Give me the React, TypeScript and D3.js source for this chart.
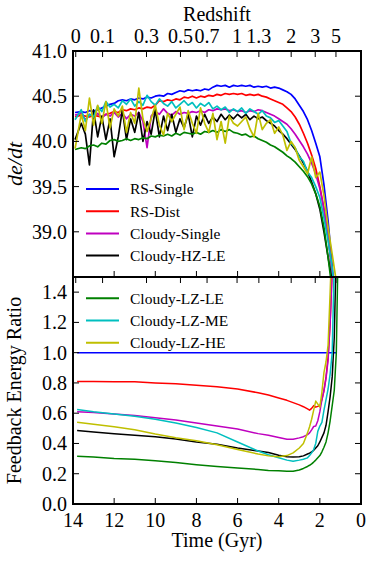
import React from "react";
import * as d3 from "d3";

// cosmic time grid (Gyr) of the de/dt panel
const timeTop = [
  13.9, 13.6, 13.4, 13.2, 13.0, 12.8, 12.6, 12.4, 12.2, 12.0,
  11.8, 11.6, 11.4, 11.2, 11.0, 10.8, 10.6, 10.4, 10.2, 10.0,
  9.8, 9.6, 9.4, 9.2, 9.0, 8.8, 8.6, 8.4, 8.2, 8.0,
  7.8, 7.6, 7.4, 7.2, 7.0, 6.8, 6.6, 6.4, 6.2, 6.0,
  5.8, 5.6, 5.4, 5.2, 5.0, 4.8, 4.6, 4.4, 4.2, 4.0,
  3.8, 3.6, 3.4, 3.2, 3.0, 2.8, 2.6, 2.4, 2.2, 2.0,
  1.8, 1.6, 1.4, 1.2,
];

const rsSingle = [
  40.32, 40.33, 40.32, 40.34, 40.33, 40.35, 40.37, 40.39, 40.41, 40.42,
  40.45, 40.46, 40.45, 40.47, 40.46, 40.48, 40.47, 40.49, 40.48, 40.50,
  40.51, 40.50, 40.53, 40.52, 40.54, 40.56, 40.55, 40.57, 40.56, 40.57,
  40.56, 40.58, 40.57, 40.60, 40.62, 40.61, 40.62, 40.60, 40.62, 40.61,
  40.62, 40.61, 40.62, 40.60, 40.61, 40.60, 40.61, 40.59, 40.60, 40.59,
  40.57, 40.55, 40.52, 40.47, 40.40, 40.33, 40.24, 40.12, 39.98, 39.83,
  39.52, 39.12, 38.62, 38.0,
];
const rsDist = [
  40.27, 40.29, 40.28, 40.27, 40.29, 40.28, 40.27, 40.30, 40.31, 40.33,
  40.32, 40.35, 40.34, 40.36, 40.35, 40.37, 40.36, 40.38, 40.37, 40.40,
  40.45, 40.44, 40.46, 40.45, 40.47, 40.46, 40.49, 40.48, 40.50, 40.48,
  40.50, 40.49, 40.51, 40.50, 40.52, 40.51, 40.53, 40.52, 40.53, 40.52,
  40.53, 40.51, 40.52, 40.51, 40.52, 40.50, 40.49, 40.47, 40.45, 40.43,
  40.41, 40.37, 40.33, 40.27, 40.19, 40.09, 39.98, 39.85, 39.70, 39.50,
  39.25, 38.95, 38.55, 38.0,
];
const cloudySingle = [
  40.29, 40.31, 40.24, 40.30, 40.27, 40.31, 40.26, 40.30, 40.28, 40.32,
  40.27, 40.31, 40.25, 40.30, 40.28, 40.32, 40.22, 39.93, 40.28, 40.33,
  40.30, 40.36, 40.31, 40.29, 40.33, 40.30, 40.32, 40.31, 40.33, 40.32,
  40.34, 40.32, 40.35, 40.34, 40.36, 40.35, 40.36, 40.34, 40.35, 40.33,
  40.34, 40.32, 40.34, 40.33, 40.35, 40.34, 40.32, 40.30, 40.28, 40.25,
  40.22, 40.19, 40.14, 40.08, 40.01, 39.94, 39.86, 39.76, 39.64, 39.48,
  39.25, 38.95, 38.55, 38.0,
];
const cloudyHzLe = [
  40.02, 40.20, 40.08, 39.74, 40.35, 40.05, 40.28, 40.02, 40.25, 39.83,
  40.05, 40.35, 40.02, 40.25, 40.10, 40.32, 40.00, 40.22, 40.08, 40.35,
  40.05, 40.28, 40.12, 40.30, 40.10, 40.25, 40.15, 40.30, 40.05, 40.28,
  40.18, 40.30, 40.20, 40.27, 40.22, 40.30, 40.24, 40.29, 40.25, 40.30,
  40.26, 40.30, 40.24, 40.28, 40.25, 40.27, 40.23, 40.20, 40.17, 40.12,
  40.08, 40.03, 39.97, 39.91, 39.84, 39.76, 39.67, 39.55, 39.42, 39.25,
  39.00, 38.72, 38.45, 38.0,
];
const cloudyLzLe = [
  39.91, 39.93, 39.92, 39.95, 39.96, 39.94, 39.98, 39.97, 40.01, 40.02,
  40.00, 40.01, 40.03, 40.01, 40.03, 40.02, 40.04, 40.03, 40.06, 40.05,
  40.07, 40.06, 40.08, 40.06, 40.09, 40.07, 40.10, 40.09, 40.08, 40.10,
  40.08, 40.11, 40.10, 40.12, 40.10, 40.13, 40.11, 40.13, 40.10, 40.09,
  40.07, 40.08, 40.05, 40.06, 40.03, 40.01, 39.99, 39.96, 39.94, 39.91,
  39.88, 39.84, 39.81, 39.77, 39.72, 39.67, 39.61, 39.53, 39.42, 39.28,
  39.05, 38.72, 38.35, 37.9,
];
const cloudyLzMe = [
  40.24, 40.35, 40.22, 40.30, 40.27, 40.39, 40.33, 40.44, 40.38, 40.41,
  40.37, 40.45, 40.41, 40.47, 40.39, 40.44, 40.40, 40.51, 40.44, 40.40,
  40.47, 40.42, 40.39, 40.44, 40.37, 40.41, 40.45, 40.40, 40.43, 40.37,
  40.42, 40.39, 40.43, 40.36, 40.39, 40.35, 40.38, 40.32, 40.36, 40.33,
  40.37, 40.31, 40.36, 40.33, 40.30, 40.34, 40.28, 40.26, 40.21, 40.23,
  40.17, 40.11, 39.98, 39.93, 39.83, 39.78, 39.66, 39.60, 39.50, 39.38,
  39.15, 38.90, 38.60, 38.1,
];
const cloudyLzHe = [
  39.92, 40.30, 40.12, 40.48, 40.18, 40.40, 40.20, 40.44, 40.15, 40.36,
  40.28, 40.39, 40.10, 40.32, 40.20, 40.59, 40.25, 40.11, 40.25, 40.40,
  40.18, 40.07, 40.31, 40.22, 40.30, 40.38, 40.13, 40.34, 40.20, 40.09,
  40.37, 40.20, 40.10, 40.31, 40.02, 40.22, 39.98, 40.28, 40.20, 40.17,
  40.22, 40.27, 40.14, 40.05, 40.31, 40.13, 40.20, 40.24, 40.09, 40.16,
  40.07, 39.90, 40.00, 39.93, 39.79, 39.72, 39.64, 39.83, 39.60, 39.66,
  39.40, 39.05, 38.75, 38.45,
];

// cosmic time grid (Gyr) of the ratio panel
const timeRatio = [
  13.8, 13.0, 12.0, 11.0, 10.0, 9.0, 8.0, 7.0, 6.0, 5.0,
  4.5, 4.0, 3.6, 3.3, 3.0, 2.8, 2.6, 2.5, 2.4, 2.3,
  2.2, 2.1, 2.0, 1.9, 1.8, 1.7, 1.6, 1.5, 1.4, 1.3,
  1.2, 1.1,
];
const ratioRsSingleTime = [13.8, 1.2];
const ratioRsSingle = [1.0, 1.0];
const ratioRsDist = [
  0.81, 0.81, 0.807, 0.808, 0.80, 0.795, 0.785, 0.775, 0.76, 0.735,
  0.72, 0.70, 0.685, 0.67, 0.655, 0.643, 0.628, 0.62, 0.632, 0.65,
  0.64, 0.645, 0.648, 0.69, 0.75, 0.84, 0.97, 1.2, 1.55, 1.9,
  2.3, 2.6,
];
const ratioCloudySingle = [
  0.61, 0.605, 0.595, 0.585, 0.57, 0.555, 0.535, 0.515, 0.495, 0.465,
  0.455, 0.44, 0.428, 0.428, 0.437, 0.445, 0.458, 0.47, 0.49, 0.512,
  0.515, 0.55, 0.61, 0.69, 0.75, 0.83, 0.95, 1.2, 1.55, 1.9,
  2.3, 2.6,
];
const ratioCloudyHzLe = [
  0.485, 0.475, 0.465, 0.455, 0.445, 0.43, 0.41, 0.395, 0.37, 0.35,
  0.34, 0.322, 0.312, 0.31, 0.312, 0.318, 0.33, 0.336, 0.345, 0.355,
  0.37, 0.385, 0.41, 0.44, 0.47, 0.52, 0.61, 0.71, 0.84, 1.1,
  1.7, 2.3,
];
const ratioCloudyLzLe = [
  0.315, 0.31, 0.30, 0.295, 0.285, 0.275, 0.26, 0.248, 0.238, 0.228,
  0.222, 0.22, 0.216, 0.217, 0.225, 0.235, 0.248, 0.256, 0.265, 0.277,
  0.29, 0.305, 0.32, 0.345, 0.375, 0.41, 0.47, 0.55, 0.65, 0.75,
  1.0, 1.8,
];
const ratioCloudyLzMe = [
  0.625, 0.61, 0.595, 0.58, 0.56, 0.535, 0.505, 0.47, 0.41, 0.35,
  0.325, 0.305, 0.29, 0.282, 0.29, 0.296, 0.305, 0.32, 0.338, 0.36,
  0.40, 0.48, 0.515, 0.54, 0.62, 0.69, 0.76, 0.86, 1.0, 1.6,
  2.2, 2.6,
];
const ratioCloudyLzHe = [
  0.54, 0.527, 0.51, 0.49, 0.462, 0.438, 0.418, 0.392, 0.36, 0.33,
  0.318, 0.312, 0.32, 0.338, 0.37, 0.40, 0.47, 0.51, 0.56, 0.62,
  0.68, 0.66, 0.64, 0.74, 0.87, 0.94, 1.05, 1.4, 1.8, 2.2,
  2.5, 2.8,
];

const seriesNames = [
  "RS-Single", "RS-Dist", "Cloudy-Single", "Cloudy-HZ-LE",
  "Cloudy-LZ-LE", "Cloudy-LZ-ME", "Cloudy-LZ-HE",
];
const seriesColors = ["#0000ff", "#ff0000", "#bf00bf", "#000000", "#008000", "#00bfbf", "#bfbf00"];

const timeTicks = [14, 12, 10, 8, 6, 4, 2, 0];
const redshiftTicks = [0, 0.1, 0.3, 0.5, 0.7, 1, 1.3, 2, 3, 5];
const topYTicks = [39.0, 39.5, 40.0, 40.5, 41.0];
const bottomYTicks = [0.0, 0.2, 0.4, 0.6, 0.8, 1.0, 1.2, 1.4];

// flat LCDM used for the redshift axis
const H0 = 70;
const OMEGA_M = 0.27;
function ageAtRedshift(z: number) {
  const ol = 1 - OMEGA_M;
  const tH = 977.8 / H0;
  return (2 / (3 * Math.sqrt(ol))) * tH * Math.asinh(Math.sqrt(ol / OMEGA_M) * Math.pow(1 + z, -1.5));
}

const serif = { fontFamily: "Liberation Serif" };

export default function App() {
  const width = 374;
  const height = 561;
  const left = 73, right = 361, top = 51, mid = 277, bottom = 504;

  const x = d3.scaleLinear().domain([14, 0]).range([left, right]);
  const yTop = d3.scaleLinear().domain([38.5, 41.0]).range([mid, top]);
  const yBot = d3.scaleLinear().domain([0, 1.5]).range([bottom, mid]);

  const topSeries = [rsSingle, rsDist, cloudySingle, cloudyHzLe, cloudyLzLe, cloudyLzMe, cloudyLzHe];
  const botSeries = [
    { t: ratioRsSingleTime, v: ratioRsSingle },
    { t: timeRatio, v: ratioRsDist },
    { t: timeRatio, v: ratioCloudySingle },
    { t: timeRatio, v: ratioCloudyHzLe },
    { t: timeRatio, v: ratioCloudyLzLe },
    { t: timeRatio, v: ratioCloudyLzMe },
    { t: timeRatio, v: ratioCloudyLzHe },
  ];

  const topLine = d3.line<number>().x((_, i) => x(timeTop[i])).y(v => yTop(v));
  const botLine = (t: number[]) => d3.line<number>().x((_, i) => x(t[i])).y(v => yBot(v));

  const tickLen = 6;
  const panels = [
    { y0: top, y1: mid, scale: yTop, ticks: topYTicks, fmt: d3.format(".1f") },
    { y0: mid, y1: bottom, scale: yBot, ticks: bottomYTicks, fmt: d3.format(".1f") },
  ];

  const legendTop = [0, 1, 2, 3];
  const legendBot = [4, 5, 6];

  return (
    <svg width={width} height={height}
      style={{ position: "absolute", left: 0, top: 0, background: "#fff" }}>
      <defs>
        <clipPath id="clipTop"><rect x={left} y={top} width={right - left} height={mid - top} /></clipPath>
        <clipPath id="clipBot"><rect x={left} y={mid} width={right - left} height={bottom - mid} /></clipPath>
      </defs>

      <g clipPath="url(#clipTop)" fill="none" strokeWidth={1.7} strokeLinejoin="round">
        {topSeries.map((vals, k) => (
          <path key={k} d={topLine(vals) || ""} stroke={seriesColors[k]} />
        ))}
      </g>
      <g clipPath="url(#clipBot)" fill="none" strokeWidth={1.5} strokeLinejoin="round">
        {botSeries.map((s, k) => (
          <path key={k} d={botLine(s.t)(s.v) || ""} stroke={seriesColors[k]} />
        ))}
      </g>

      {/* ticks */}
      {panels.map((p, k) => (
        <g key={k} stroke="#000" strokeWidth={1}>
          {p.ticks.map(v => (
            <g key={v}>
              <line x1={left} x2={left + tickLen} y1={p.scale(v)} y2={p.scale(v)} />
              <line x1={right} x2={right - tickLen} y1={p.scale(v)} y2={p.scale(v)} />
            </g>
          ))}
          {timeTicks.map(t => (
            <line key={"t" + t} x1={x(t)} x2={x(t)} y1={p.y1} y2={p.y1 - tickLen} />
          ))}
          {redshiftTicks.map(z => (
            <line key={"z" + z} x1={x(ageAtRedshift(z))} x2={x(ageAtRedshift(z))} y1={p.y0} y2={p.y0 + tickLen} />
          ))}
        </g>
      ))}

      {/* spines */}
      <rect x={left} y={top} width={right - left} height={mid - top} fill="none" stroke="#000" strokeWidth={2} />
      <rect x={left} y={mid} width={right - left} height={bottom - mid} fill="none" stroke="#000" strokeWidth={2} />

      {/* y tick labels */}
      <g fontSize={20} textAnchor="end" fill="#000">
        {panels.map((p, k) => p.ticks.map(v => (
          <text key={k + "-" + v} x={left - 6} y={p.scale(v)} dy="0.35em" style={serif}>{p.fmt(v)}</text>
        )))}
      </g>

      {/* x tick labels */}
      <g fontSize={20} textAnchor="middle" fill="#000">
        {timeTicks.map(t => (
          <text key={t} x={x(t)} y={527} style={serif}>{t}</text>
        ))}
        {redshiftTicks.map(z => (
          <text key={z} x={x(ageAtRedshift(z))} y={43} style={serif}>{String(z)}</text>
        ))}
      </g>

      {/* axis labels */}
      <text x={(left + right) / 2} y={21} fontSize={20} textAnchor="middle" style={serif}>Redshift</text>
      <text x={(left + right) / 2} y={547} fontSize={20} textAnchor="middle" style={serif}>Time (Gyr)</text>
      <text transform={`translate(22,${(top + mid) / 2}) rotate(-90)`} fontSize={22} fontStyle="italic"
        textAnchor="middle" style={serif}>de/dt</text>
      <text transform={`translate(21,${(mid + bottom) / 2}) rotate(-90)`} fontSize={20} textAnchor="middle"
        style={serif}>Feedback Energy Ratio</text>

      {/* legends */}
      <g fontSize={15.5}>
        {legendTop.map((k, i) => (
          <g key={k} transform={`translate(0,${189 + i * 22.2})`}>
            <line x1={86} x2={119} y1={0} y2={0} stroke={seriesColors[k]} strokeWidth={2} />
            <text x={130} y={0} dy="0.35em" style={serif}>{seriesNames[k]}</text>
          </g>
        ))}
        {legendBot.map((k, i) => (
          <g key={k} transform={`translate(0,${298.3 + i * 22.2})`}>
            <line x1={86} x2={119} y1={0} y2={0} stroke={seriesColors[k]} strokeWidth={2} />
            <text x={130} y={0} dy="0.35em" style={serif}>{seriesNames[k]}</text>
          </g>
        ))}
      </g>
    </svg>
  );
}
